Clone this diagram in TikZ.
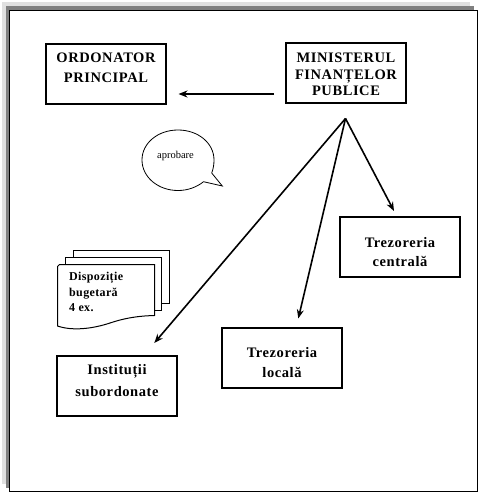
\documentclass[tikz,border=0pt]{standalone}
\usepackage{fontspec}
\setmainfont{Liberation Serif}
\newfontfamily\boxfont[LetterSpace=4]{Liberation Serif}
\newfontfamily\docfont[LetterSpace=3]{Liberation Serif}
\usetikzlibrary{arrows.meta}
\tikzset{
 x=1pt,y=-1pt,
 boxn/.style={draw=black,line width=2pt,fill=white,align=center,inner sep=0pt,minimum width=120pt,minimum height=60pt,font=\boxfont\bfseries\fontsize{14.5}{16.5}\selectfont},
 con/.style={draw=black,line width=1.6pt,-{Stealth[length=9pt,width=7pt]}},
 lite/.style={draw=black,line width=1pt,fill=white},
 doc/.style={font=\docfont\bfseries\fontsize{12}{15.5}\selectfont,align=left,inner sep=0pt,anchor=north west}
}
\begin{document}
\begin{tikzpicture}
\useasboundingbox (0,0) rectangle (481,495);
\fill[white] (0,0) rectangle (481,495);
\fill[black!12] (2,2) rectangle (470,484);
\fill[black!50] (6,6) rectangle (474,488);
\draw[black,line width=1pt,fill=white] (9.5,10.5) rectangle (477.5,491.5);
\node[boxn] (ord) at (106,74) {ORDONATOR\\[4pt]PRINCIPAL\rule[-13pt]{0pt}{13pt}};
\node[boxn] (min) at (346,73) {\rule{0pt}{13pt}MINISTERUL\\FINANȚELOR\\PUBLICE};
\node[boxn] (tc) at (400,247) {\rule{0pt}{20pt}Trezoreria\\[2.5pt]centrală};
\node[boxn] (tl) at (282,358) {\rule{0pt}{20pt}Trezoreria\\[3.5pt]locală};
\node[boxn] (is) at (117,386) {Instituții\\[5.5pt]subordonate\rule[-12pt]{0pt}{12pt}};
\coordinate (fan) at (345.5,118.5);
\coordinate (ordin) at (178.5,94);
\coordinate (minout) at (274,94);
\coordinate (tcin) at (394,211);
\coordinate (tlin) at (298.3,318.5);
\coordinate (isin) at (154.3,343);
\draw[con] (minout) -- (ordin);
\draw[con] (fan) -- (tcin);
\draw[con] (fan) -- (tlin);
\draw[con] (fan) -- (isin);
% speech bubble
\draw[black,line width=0.8pt,fill=white] (211.7,173) .. controls (213.2,169) and (214,165) .. (214,160)
 .. controls (214,143) and (198,130) .. (178,130)
 .. controls (158,130) and (142,143) .. (142,160)
 .. controls (142,177) and (158,190.5) .. (178,190.5)
 .. controls (188,190.5) and (197,187) .. (203.5,181.7)
 -- (222.3,186) -- cycle;
\node[font=\fontsize{10.5}{12}\selectfont,inner sep=0pt] (apr) at (175.5,155.5) {aprobare};
% documents
\draw[lite] (73,250.5) -- (169.5,250.5) -- (169.5,303.5) -- (73,303.5) -- cycle;
\draw[lite] (65.5,257.5) -- (161.5,257.5) -- (161.5,310.5) -- (65.5,310.5) -- cycle;
\draw[lite] (59.5,264.5) -- (154.5,264.5) -- (154.5,315.5)
  .. controls (135,316) and (122,319) .. (110,323)
  .. controls (92,329) and (72,331) .. (57.5,326) -- (57.5,266.5) -- cycle;
\node[doc] (d) at (69,272) {Dispoziție\\bugetară\\4 ex.};
\end{tikzpicture}
\end{document}
